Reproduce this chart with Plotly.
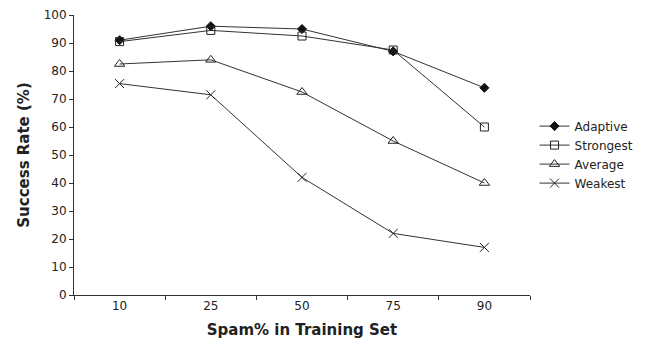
import plotly.graph_objects as go

categories = ["10", "25", "50", "75", "90"]
adaptive = [91, 96, 95, 87, 74]
strongest = [90.5, 94.5, 92.5, 87.5, 60]
average = [82.5, 84, 72.5, 55, 40]
weakest = [75.5, 71.5, 42, 22, 17]

series = [
    ("Adaptive", adaptive, dict(symbol="diamond", size=7, color="#111", line=dict(color="#111", width=1))),
    ("Strongest", strongest, dict(symbol="square-open", size=8, color="#222", line=dict(width=1))),
    ("Average", average, dict(symbol="triangle-up-open", size=9, color="#222", line=dict(width=1))),
    ("Weakest", weakest, dict(symbol="x-thin-open", size=9, color="#222", line=dict(width=1))),
]

fig = go.Figure()
for name, vals, mk in series:
    fig.add_trace(go.Scatter(x=categories, y=vals, name=name, mode="lines+markers",
                             line=dict(color="#333", width=1), marker=mk))

font = "DejaVu Sans, Verdana, sans-serif"
fig.update_layout(
    width=652, height=345,
    margin=dict(l=66, r=130, t=7, b=58, autoexpand=False),
    paper_bgcolor="white", plot_bgcolor="white",
    font=dict(family=font, size=12, color="#222"),
    showlegend=True,
    legend=dict(x=1.01, y=0.655, xanchor="left", yanchor="top", font=dict(size=12),
                bgcolor="rgba(0,0,0,0)", tracegroupgap=0, itemwidth=30),
)
fig.update_xaxes(type="category", range=[-0.5, 4.5], tickson="boundaries", automargin=False,
                 ticks="outside", ticklen=4, tickcolor="#333", showline=True, linecolor="#333",
                 showgrid=False, zeroline=False,
                 title=dict(text="<b>Spam% in Training Set</b>", font=dict(size=15), standoff=12))
fig.update_yaxes(range=[0, 100], dtick=10, ticks="outside", ticklen=4, tickcolor="#333",
                 automargin=False,
                 showline=True, linecolor="#333", showgrid=False, zeroline=False,
                 title=dict(text="<b>Success Rate (%)</b>", font=dict(size=15), standoff=10))
fig.write_html("out.html")
